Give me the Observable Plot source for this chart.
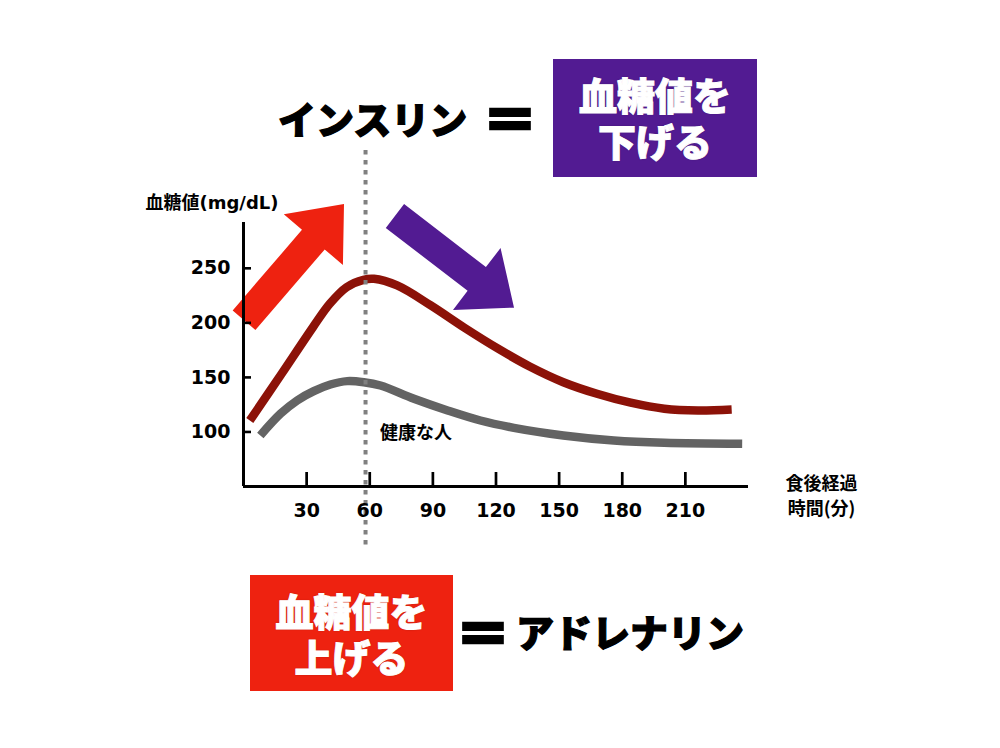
<!DOCTYPE html>
<html lang="ja">
<head>
<meta charset="utf-8">
<script src="https://cdn.jsdelivr.net/npm/d3@7"></script>
<script src="https://cdn.jsdelivr.net/npm/@observablehq/plot@0.6"></script>
<style>
  html, body { margin: 0; padding: 0; background: #fff; }
  #wrap { position: relative; width: 1000px; height: 748px; overflow: hidden; font-family: "Noto Sans CJK JP", sans-serif; }
  #chart { position: absolute; left: 0; top: 0; }
  .big { position: absolute; font-size: 38px; font-weight: 900; line-height: 38px; color: #000; -webkit-text-stroke: 1.2px #000; white-space: nowrap; }
  .eq { position: absolute; font-size: 56px; font-weight: 900; line-height: 56px; color: #000; -webkit-text-stroke: 2.5px #000; }
  .box { position: absolute; box-sizing: border-box; padding-top: 12px; text-align: center; color: #fff; font-size: 38px; font-weight: 900; line-height: 46px; -webkit-text-stroke: 1px #fff; text-shadow: 0 0 2px rgba(0,0,0,0.35); white-space: pre-line; }
</style>
</head>
<body>
<div id="wrap">
  <div id="chart"></div>
</div>
<script>
// ---- data ----
const xTicks = [30, 60, 90, 120, 150, 180, 210];          // 食後経過時間(分)
const yTicks = [100, 150, 200, 250];                       // 血糖値(mg/dL)
const highMinutes = [3, 18, 33, 41, 49, 57, 62, 73, 89, 105, 121, 136, 152, 168, 184, 200, 216, 232];
const highGlucose = [110.5, 153, 196, 217.5, 232.7, 239.5, 240.4, 234.3, 216, 195.5, 176.3, 160, 145.6, 135, 126.8, 121.3, 119.7, 120.6];
const healthyMinutes = [8, 17.6, 25.5, 33.4, 41.3, 49.3, 57.2, 65.1, 81, 97, 112.6, 128.5, 152, 176, 200, 237];
const healthyGlucose = [96.8, 116.7, 128.9, 137.4, 143.5, 146.6, 145.6, 142.6, 130.4, 119.7, 110.5, 103.8, 96.8, 92.2, 90.1, 89.2];
const peakMinute = [58];
const riseArrow = {from: [0.5, 202], to: [48, 308.5]};
const fallArrow = {from: [72.2, 297.5], to: [128.8, 213.5]};
const healthyLabel = [{t: 82, v: 98.6, text: "健康な人"}];
const yTitle = ["血糖値(mg/dL)"];
const xTitle = ["食後経過\n時間(分)"];
const topLeftText = "インスリン";
const topBoxText = ["血糖値を", "下げる"];
const bottomBoxText = ["血糖値を", "上げる"];
const bottomRightText = "アドレナリン";
const eqText = "＝";

// ---- style ----
const C = {
  high: "#8c1208", healthy: "#636363", rule: "#808080",
  red: "#ee2210", purple: "#521b92"
};
const numFont = "'DejaVu Sans', 'Noto Sans CJK JP', sans-serif";
const jpFont = "'Noto Sans CJK JP', sans-serif";
const SHAFT = 30, HEAD_W = 78, HEAD_LEN = 47;

function blockArrow(arrow, fill) {
  return (index, scales) => {
    const x0 = scales.x(arrow.from[0]), y0 = scales.y(arrow.from[1]);
    const x1 = scales.x(arrow.to[0]), y1 = scales.y(arrow.to[1]);
    const len = Math.hypot(x1 - x0, y1 - y0);
    const ux = (x1 - x0) / len, uy = (y1 - y0) / len;
    const nx = -uy, ny = ux;
    const bx = x1 - ux * HEAD_LEN, by = y1 - uy * HEAD_LEN;
    const pts = [
      [x0 + nx * SHAFT / 2, y0 + ny * SHAFT / 2],
      [bx + nx * SHAFT / 2, by + ny * SHAFT / 2],
      [bx + nx * HEAD_W / 2, by + ny * HEAD_W / 2],
      [x1, y1],
      [bx - nx * HEAD_W / 2, by - ny * HEAD_W / 2],
      [bx - nx * SHAFT / 2, by - ny * SHAFT / 2],
      [x0 - nx * SHAFT / 2, y0 - ny * SHAFT / 2]
    ];
    return d3.create("svg:path").attr("d", d3.line()(pts) + "Z").attr("fill", fill).node();
  };
}

const high = highMinutes.map((t, i) => ({t, v: highGlucose[i]}));
const healthy = healthyMinutes.map((t, i) => ({t, v: healthyGlucose[i]}));

const chart = Plot.plot({
  width: 1000, height: 748,
  marginLeft: 243, marginRight: 252, marginTop: 222, marginBottom: 262,
  x: {domain: [0, 240], axis: null},
  y: {domain: [50, 292], axis: null},
  style: {background: "transparent", overflow: "visible", fontFamily: jpFont},
  marks: [
    blockArrow(riseArrow, C.red),
    blockArrow(fallArrow, C.purple),
    Plot.line(healthy, {x: "t", y: "v", curve: "catmull-rom", stroke: C.healthy, strokeWidth: 8.5, strokeLinecap: "butt"}),
    Plot.line(high, {x: "t", y: "v", curve: "catmull-rom", stroke: C.high, strokeWidth: 8.5, strokeLinecap: "butt"}),
    Plot.ruleX(peakMinute, {x: d => d, stroke: C.rule, strokeWidth: 4, strokeDasharray: "4.5,5.5", insetTop: -72, insetBottom: -64}),
    Plot.tickX(xTicks, {x: d => d, stroke: "#000", strokeWidth: 2.7, insetTop: 250}),
    Plot.tickY(yTicks, {y: d => d, stroke: "#000", strokeWidth: 2.6, insetRight: 497}),
    Plot.ruleY([50], {stroke: "#000", strokeWidth: 3}),
    Plot.ruleX([0], {stroke: "#000", strokeWidth: 3}),
    Plot.text(xTicks, {x: d => d, text: d => String(d), frameAnchor: "bottom", dy: 24, lineAnchor: "middle", fontFamily: numFont, fontWeight: "bold", fontSize: 19, fill: "#000"}),
    Plot.text(yTicks, {y: d => d, text: d => String(d), frameAnchor: "left", dx: -13, textAnchor: "end", lineAnchor: "middle", fontFamily: numFont, fontWeight: "bold", fontSize: 19, fill: "#000"}),
    Plot.text(yTitle, {text: d => d, frameAnchor: "top-left", dx: -98, dy: -19, textAnchor: "start", lineAnchor: "middle", fontFamily: numFont, fontWeight: "bold", fontSize: 18, fill: "#000"}),
    Plot.text(xTitle, {text: d => d, frameAnchor: "bottom-right", dx: 73, dy: 7.5, textAnchor: "middle", lineAnchor: "middle", lineHeight: 1.39, fontFamily: jpFont, fontWeight: "bold", fontSize: 18, fill: "#000"}),
    Plot.text(healthyLabel, {x: "t", y: "v", text: "text", textAnchor: "middle", lineAnchor: "middle", fontFamily: jpFont, fontWeight: "bold", fontSize: 18, fill: "#000"})
  ]
});
document.getElementById("chart").append(chart);

const wrap = document.getElementById("wrap");
function addDiv(cls, text, css) {
  const d = document.createElement("div");
  d.className = cls;
  d.textContent = Array.isArray(text) ? text.join("\n") : text;
  Object.assign(d.style, css);
  wrap.append(d);
}
addDiv("big", topLeftText, {left: "278px", top: "99px"});
addDiv("eq", eqText, {left: "482px", top: "89px"});
addDiv("box", topBoxText, {left: "553px", top: "59px", width: "204px", height: "118px", background: C.purple});
addDiv("box", bottomBoxText, {left: "250px", top: "575px", width: "203px", height: "116px", background: C.red});
addDiv("eq", eqText, {left: "455px", top: "603px"});
addDiv("big", bottomRightText, {left: "516px", top: "612px"});
</script>
</body>
</html>
